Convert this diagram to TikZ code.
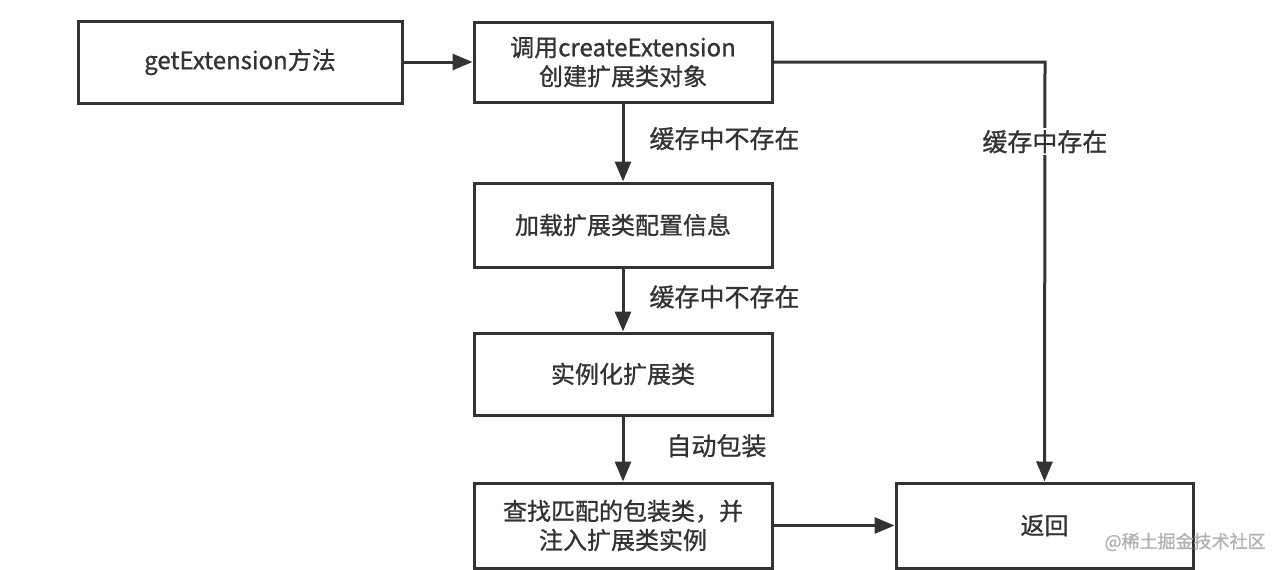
\documentclass[tikz,border=0pt]{standalone}
\usepackage{fontspec}
\setmainfont[FakeBold=0.9,BoldFont={Noto Sans CJK SC}]{Noto Sans CJK SC}
\usetikzlibrary{arrows.meta}
\definecolor{ink}{HTML}{333333}
\begin{document}
\begin{tikzpicture}[x=1pt,y=-1pt,
  box/.style={draw=ink,line width=3pt,fill=white,minimum height=82pt,text=ink,align=center,font=\fontsize{24}{29}\selectfont\bfseries,inner sep=0pt},
  flow/.style={draw=ink,line width=3pt,-{Triangle[length=20pt,width=16pt]}},
  lbl/.style={text=ink,font=\fontsize{25}{29}\selectfont\bfseries,inner sep=2pt}]
\useasboundingbox[fill=white] (0,0) rectangle (1282,570);
\node[box,minimum width=324pt] (get) at (240,62) {getExtension方法};
\node[box,minimum width=298pt,minimum height=80pt] (create) at (623,62) {调用createExtension\\创建扩展类对象};
\node[box,minimum width=298pt,minimum height=84pt] (load) at (623,225) {加载扩展类配置信息};
\node[box,minimum width=298pt] (inst) at (623,374) {实例化扩展类};
\node[box,minimum width=298pt,minimum height=85pt] (wrap) at (623,525.5) {查找匹配的包装类，并\\注入扩展类实例};
\node[box,minimum width=297pt,minimum height=85pt] (ret) at (1044.5,525.5) {返回};
\coordinate (corner) at (1045,62);
\draw[flow] (get) -- (create);
\draw[flow] (create) -- node[lbl,anchor=west,pos=0.45,xshift=23pt] {缓存中不存在} (load);
\draw[flow] (load) -- node[lbl,anchor=west,pos=0.45,xshift=23pt] {缓存中不存在} (inst);
\draw[flow] (inst) -- node[lbl,anchor=west,pos=0.45,xshift=40pt] {自动包装} (wrap);
\draw[flow] (wrap) -- (ret);
\draw[flow] (create.east) -- (corner) -- node[lbl,fill=white,pos=0.19] {缓存中存在} (ret.north);
\node[text=gray!60,font=\fontsize{18}{20}\selectfont\mdseries,anchor=west] (wm) at (1101,542) {@稀土掘金技术社区};
\end{tikzpicture}
\end{document}
